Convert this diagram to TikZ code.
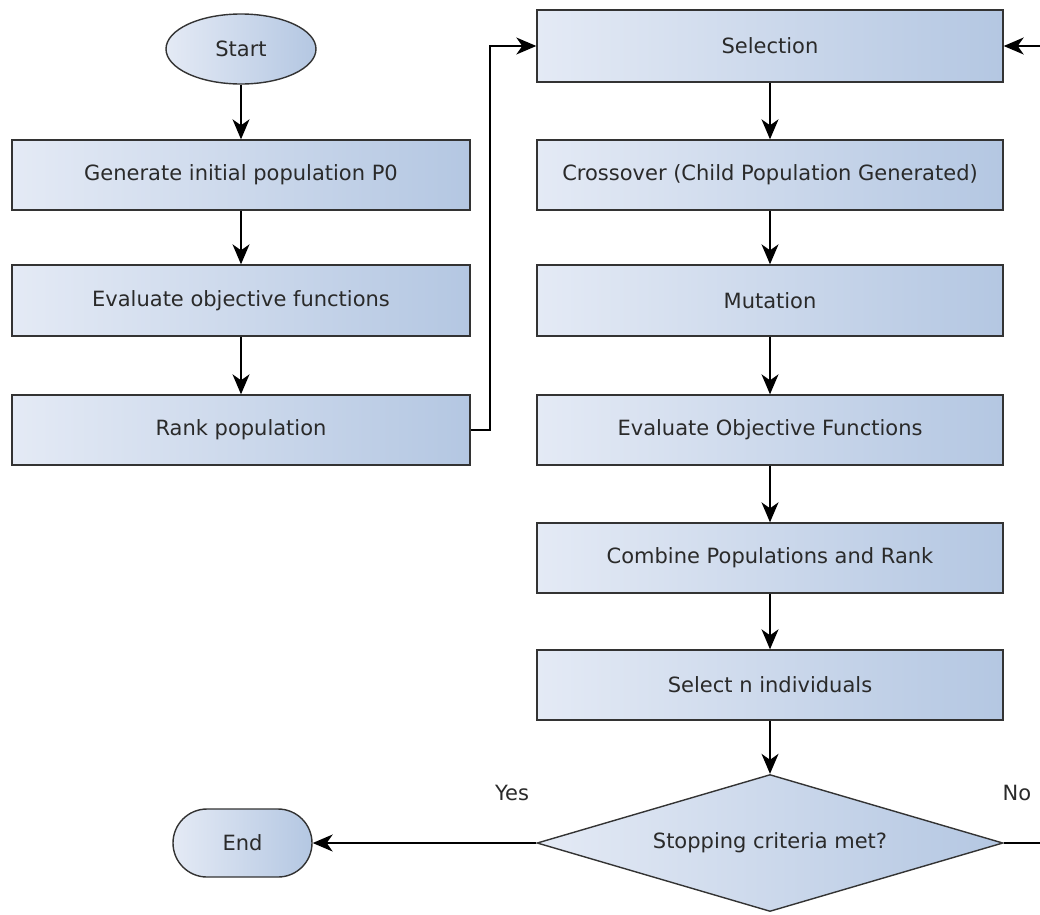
\documentclass[tikz,border=0pt]{standalone}
\usepackage{fontspec}
\setmainfont{DejaVu Sans}
\usetikzlibrary{shapes.geometric,arrows.meta}
\definecolor{boxleft}{HTML}{E4EAF5}
\definecolor{boxright}{HTML}{B4C7E2}
\definecolor{edge}{HTML}{333333}
\definecolor{txt}{HTML}{2A2A2A}
\tikzset{
  fill grad/.style={left color=boxleft, right color=boxright, draw=edge, line width=1.4pt},
  bodyfont/.style={font=\fontsize{21}{25}\selectfont},
  procbox/.style={fill grad, rectangle, minimum height=70pt, text=txt,
    bodyfont, inner sep=0pt},
  leftbox/.style={procbox, minimum width=458pt},
  rightbox/.style={procbox, minimum width=466pt},
  terminal/.style={fill grad, ellipse, minimum width=150pt, minimum height=70pt,
    text=txt, bodyfont, inner sep=0pt},
  endbox/.style={fill grad, rectangle, rounded corners=34pt, minimum width=139pt,
    minimum height=68pt, text=txt, bodyfont, inner sep=0pt},
  decision/.style={fill grad, diamond, aspect=3.4, minimum width=466pt,
    minimum height=137pt, text=txt, bodyfont, inner sep=0pt},
  flow/.style={draw=black, line width=1.3pt,
    -{Stealth[length=20pt,width=17pt,inset=6pt]}},
  lbl/.style={text=txt, bodyfont, inner sep=0pt}
}
\begin{document}
\begin{tikzpicture}[x=1pt,y=-1pt]
\useasboundingbox (0,0) rectangle (1040,914);
\clip (0,0) rectangle (1040,914);

% left column
\node[terminal] (start) at (241,49) {Start};
\node[leftbox] (gen)  at (241,175)   {Generate initial population P0};
\node[leftbox, minimum height=71pt] (evalf) at (241,300.5) {Evaluate objective functions};
\node[leftbox] (rank) at (241,430)   {Rank population};

% right column
\node[rightbox, minimum height=72pt] (sel) at (770,46) {Selection};
\node[rightbox] (cross) at (770,175)   {Crossover (Child Population Generated)};
\node[rightbox, minimum height=71pt] (mut) at (770,300.5) {Mutation};
\node[rightbox] (evalo) at (770,430)   {Evaluate Objective Functions};
\node[rightbox] (comb)  at (770,558)   {Combine Populations and Rank};
\node[rightbox] (seln)  at (770,685)   {Select n individuals};
\node[decision] (stop)  at (770,843) {Stopping criteria met?};
\node[endbox] (fin) at (242.5,843) {End};

% labels on the decision branches
\node[lbl] (yes) at (512,793) {Yes};
\node[lbl] (no)  at (1017,793) {No};

% bends of the loop connectors
\coordinate (rbend) at (490,430);
\coordinate (rtop)  at (490,46);
\coordinate (nob)   at (1050,843);
\coordinate (not)   at (1050,46);

% vertical flow
\draw[flow] (start) -- (gen);
\draw[flow] (gen) -- (evalf);
\draw[flow] (evalf) -- (rank);
\draw[flow] (sel) -- (cross);
\draw[flow] (cross) -- (mut);
\draw[flow] (mut) -- (evalo);
\draw[flow] (evalo) -- (comb);
\draw[flow] (comb) -- (seln);
\draw[flow] (seln) -- (stop.north);

% loops and exits
\draw[flow] (rank.east) -- (rbend) -- (rtop) -- (sel.west);
\draw[flow] (stop.west) -- (fin.east);
\draw[flow] (stop.east) -- (nob) -- (not) -- (sel.east);
\end{tikzpicture}
\end{document}
